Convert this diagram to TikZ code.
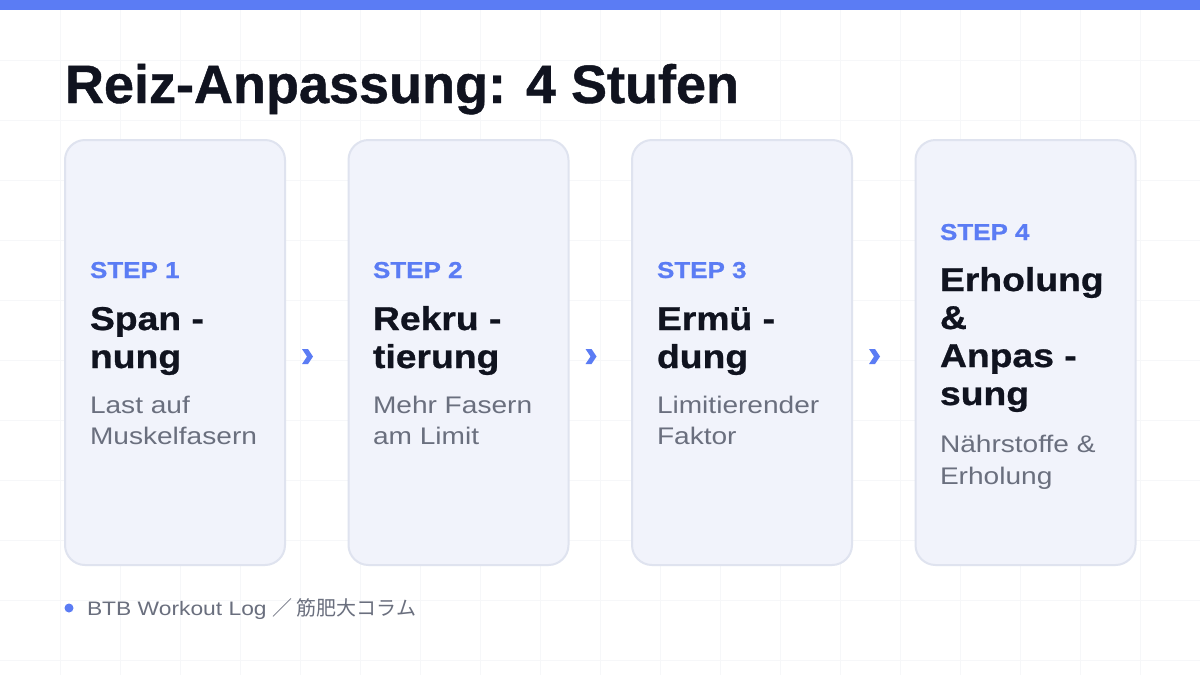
\documentclass[tikz,border=0pt]{standalone}
\usepackage{fontspec}
\setmainfont{Liberation Sans}
\newfontfamily\ttlfont[FakeBold=0.8]{Liberation Sans}
\newfontfamily\wfont[FakeStretch=1.13,FakeBold=0.8]{Liberation Sans}
\newfontfamily\dfont[FakeStretch=1.17]{Liberation Sans}
\newfontfamily\cjkfont{Noto Sans CJK JP}
\definecolor{accent}{HTML}{5B7CF4}
\definecolor{ink}{HTML}{10131F}
\definecolor{muted}{HTML}{6A6F7E}
\definecolor{cardfill}{HTML}{F1F3FB}
\definecolor{cardline}{HTML}{DFE3EF}
\definecolor{gridc}{HTML}{F6F7F9}
\tikzset{
  card/.style={draw=cardline, line width=2pt, fill=cardfill, rounded corners=20pt,
    minimum width=220pt, minimum height=425pt, inner sep=0pt},
  lbl/.style={anchor=base west, inner sep=0pt, outer sep=0pt},
  steplbl/.style={lbl, text=accent, font=\wfont\bfseries\fontsize{23}{23}\selectfont},
  head/.style={lbl, text=ink, font=\wfont\bfseries\fontsize{33}{33}\selectfont},
  desc/.style={lbl, text=muted, font=\dfont\fontsize{24}{24}\selectfont},
  titlestyle/.style={lbl, text=ink, font=\ttlfont\bfseries\fontsize{54}{54}\selectfont},
  chev/.style={fill=accent},
}
\begin{document}
\begin{tikzpicture}[x=1pt,y=-1pt]
\useasboundingbox (0,0) rectangle (1200,675);
\fill[white] (0,0) rectangle (1200,675);
\foreach \gx in {60,120,...,1140} \draw[gridc, line width=1pt] (\gx,0) -- (\gx,675);
\foreach \gy in {60,120,...,660} \draw[gridc, line width=1pt] (0,\gy) -- (1200,\gy);
\fill[accent] (0,0) rectangle (1200,10);
\node[titlestyle] (title) at (65,103) {Reiz-Anpassung: 4 Stufen};
% cards
\node[card] (card1) at (175,352.5) {};
\node[card] (card2) at (458.5,352.5) {};
\node[card] (card3) at (742,352.5) {};
\node[card] (card4) at (1025.5,352.5) {};
% card 1
\node[steplbl] (s1) at (90,278) {STEP 1};
\node[head] (h1a) at (90,330) {Span -};
\node[head] (h1b) at (90,368) {nung};
\node[desc] (d1a) at (90,413) {Last auf};
\node[desc] (d1b) at (90,444) {Muskelfasern};
% card 2
\node[steplbl] (s2) at (373,278) {STEP 2};
\node[head] (h2a) at (373,330) {Rekru -};
\node[head] (h2b) at (373,368) {tierung};
\node[desc] (d2a) at (373,413) {Mehr Fasern};
\node[desc] (d2b) at (373,444) {am Limit};
% card 3
\node[steplbl] (s3) at (657,278) {STEP 3};
\node[head] (h3a) at (657,330) {Ermü -};
\node[head] (h3b) at (657,368) {dung};
\node[desc] (d3a) at (657,413) {Limitierender};
\node[desc] (d3b) at (657,444) {Faktor};
% card 4
\node[steplbl] (s4) at (940,240) {STEP 4};
\node[head] (h4a) at (940,291) {Erholung};
\node[head] (h4b) at (940,329) {\&};
\node[head] (h4c) at (940,367) {Anpas -};
\node[head] (h4d) at (940,405) {sung};
\node[desc] (d4a) at (940,452) {Nährstoffe \&};
\node[desc] (d4b) at (940,484) {Erholung};
% chevrons
\foreach \cx in {307.5,591,874.5}{
  \begin{scope}[shift={(\cx,356.5)}]
    \fill[chev] (-5.5,-7.5) -- (0.5,-7.5) -- (5.5,0) -- (0.5,7.5) -- (-5.5,7.5) -- (-0.5,0) -- cycle;
  \end{scope}
}
% footer
\fill[accent] (69,608) circle (4.5);
\node[lbl, text=muted, font=\dfont\fontsize{19.5}{19.5}\selectfont] (foot) at (87,615)
  {BTB Workout Log \cjkfont\fontsize{20}{20}\selectfont ／\hspace{4pt}筋肥大コラム};
\end{tikzpicture}
\end{document}
